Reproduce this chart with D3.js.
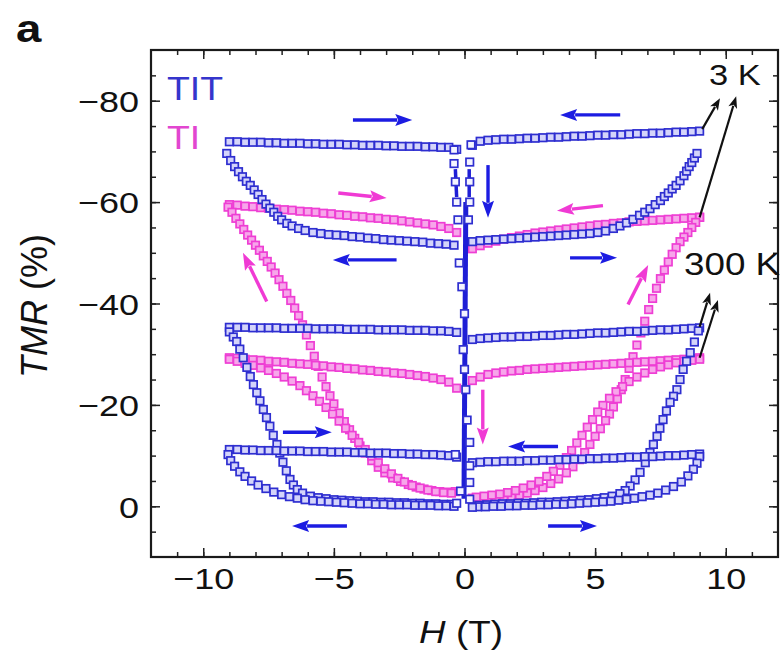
<!DOCTYPE html>
<html>
<head>
<meta charset="utf-8">
<script src="https://cdn.jsdelivr.net/npm/d3@7"></script>
<style>
  body { margin: 0; background: #fff; }
  text { font-family: "Liberation Sans", Arial, sans-serif; fill: #111; }
</style>
</head>
<body>
<div id="chart"></div>
<script>
// Field sweep grids (T) used by the flat branches
var hNeg = [-9.0,-8.7,-8.4,-8.1,-7.8,-7.5,-7.2,-6.9,-6.6,-6.3,-6.0,-5.7,-5.4,-5.1,-4.8,-4.5,-4.2,-3.9,-3.6,-3.3,-3.0,-2.7,-2.4,-2.1,-1.8,-1.5,-1.2,-0.9,-0.6,-0.3];
var hPos = [0.3,0.6,0.9,1.2,1.5,1.8,2.1,2.4,2.7,3.0,3.3,3.6,3.9,4.2,4.5,4.8,5.1,5.4,5.7,6.0,6.3,6.6,6.9,7.2,7.5,7.8,8.1,8.4,8.7,9.0];

// TIT, 3 K
var titUp3kL = [-71.9,-71.9,-71.8,-71.8,-71.8,-71.7,-71.7,-71.6,-71.6,-71.6,-71.5,-71.5,-71.4,-71.4,-71.4,-71.3,-71.3,-71.2,-71.2,-71.2,-71.1,-71.1,-71.0,-71.0,-71.0,-70.9,-70.9,-70.8,-70.8,-70.4];
var titUp3kR = [-71.2,-72.0,-72.2,-72.3,-72.4,-72.4,-72.5,-72.6,-72.6,-72.7,-72.8,-72.8,-72.9,-73.0,-73.0,-73.1,-73.2,-73.2,-73.3,-73.3,-73.4,-73.5,-73.5,-73.6,-73.6,-73.7,-73.8,-73.8,-73.9,-74.0];
var titLo3kL = [[-9.1,-69.6],[-8.95,-68.2],[-8.8,-67.0],[-8.65,-66.0],[-8.5,-65.0],[-8.35,-64.1],[-8.2,-63.3],[-8.05,-62.4],[-7.9,-61.5],[-7.75,-60.5],[-7.6,-59.6],[-7.45,-58.8],[-7.3,-58.0],[-7.15,-57.2],[-7.0,-56.5],[-6.8,-55.8],[-6.6,-55.3],[-6.35,-54.8],[-6.1,-54.4],[-5.8,-54.0],[-5.5,-53.8],[-5.2,-53.6],[-4.9,-53.5],[-4.6,-53.4],[-4.3,-53.2],[-4.0,-53.1],[-3.7,-52.9],[-3.4,-52.8],[-3.1,-52.6],[-2.8,-52.5],[-2.5,-52.4],[-2.2,-52.3],[-1.9,-52.2],[-1.6,-52.1],[-1.3,-51.9],[-1.0,-51.8],[-0.7,-51.7],[-0.4,-51.5]];
var titLo3kR = [[0.3,-52.2],[0.6,-52.4],[0.9,-52.5],[1.2,-52.6],[1.5,-52.7],[1.8,-52.8],[2.1,-52.9],[2.4,-53.0],[2.7,-53.1],[3.0,-53.2],[3.3,-53.3],[3.6,-53.4],[3.9,-53.5],[4.2,-53.6],[4.5,-53.7],[4.8,-53.8],[5.1,-54.0],[5.4,-54.3],[5.7,-54.8],[5.95,-55.3],[6.2,-55.9],[6.45,-56.6],[6.7,-57.4],[6.9,-58.0],[7.1,-58.7],[7.3,-59.5],[7.5,-60.3],[7.65,-61.1],[7.8,-61.8],[7.95,-62.6],[8.1,-63.3],[8.25,-64.2],[8.4,-65.2],[8.5,-66.1],[8.6,-67.0],[8.7,-67.8],[8.8,-68.7],[8.9,-69.6]];

// TIT, 300 K
var titUp300L = [-35.3,-35.3,-35.3,-35.2,-35.2,-35.2,-35.2,-35.1,-35.1,-35.1,-35.1,-35.0,-35.0,-35.0,-35.0,-34.9,-34.9,-34.9,-34.9,-34.8,-34.8,-34.8,-34.8,-34.7,-34.7,-34.7,-34.6,-34.6,-34.5,-34.3];
var titUp300R = [-32.9,-33.1,-33.2,-33.3,-33.4,-33.4,-33.5,-33.5,-33.6,-33.7,-33.7,-33.8,-33.9,-33.9,-34.0,-34.1,-34.2,-34.2,-34.3,-34.4,-34.5,-34.5,-34.6,-34.7,-34.8,-34.8,-34.9,-35.0,-35.1,-35.2];
var titLo300L = [[-9.0,-34.4],[-8.85,-33.4],[-8.72,-32.5],[-8.6,-31.0],[-8.47,-29.3],[-8.33,-27.4],[-8.2,-25.6],[-8.08,-24.0],[-7.95,-22.4],[-7.83,-20.8],[-7.7,-19.1],[-7.58,-17.5],[-7.45,-15.8],[-7.32,-14.0],[-7.18,-12.2],[-7.07,-10.5],[-6.95,-8.7],[-6.82,-7.0],[-6.68,-5.3],[-6.55,-4.2],[-6.4,-3.3],[-6.2,-2.6],[-5.9,-2.0],[-5.6,-1.7],[-5.3,-1.5],[-5.0,-1.3],[-4.7,-1.2],[-4.4,-1.1],[-4.1,-1.0],[-3.8,-0.9],[-3.5,-0.9],[-3.2,-0.8],[-2.9,-0.8],[-2.6,-0.7],[-2.3,-0.7],[-2.0,-0.6],[-1.7,-0.6],[-1.4,-0.5],[-1.1,-0.5],[-0.8,-0.4],[-0.5,-0.4]];
var titLo300R = [[8.95,-34.6],[8.8,-32.4],[8.64,-30.3],[8.5,-28.6],[8.37,-27.0],[8.25,-25.0],[8.13,-23.0],[8.0,-21.7],[7.87,-20.5],[7.73,-18.8],[7.6,-17.1],[7.48,-15.4],[7.37,-13.8],[7.23,-12.2],[7.1,-10.6],[6.92,-8.6],[6.72,-6.7],[6.53,-5.2],[6.34,-4.0],[6.15,-3.1],[5.95,-2.5],[5.65,-2.0],[5.35,-1.7],[5.05,-1.5],[4.75,-1.3],[4.45,-1.2],[4.15,-1.1],[3.85,-1.0],[3.55,-0.9],[3.25,-0.8],[2.95,-0.8],[2.65,-0.7],[2.35,-0.6],[2.05,-0.6],[1.75,-0.5],[1.45,-0.5],[1.15,-0.4],[0.85,-0.3],[0.55,-0.2]];

// TIT, small loop near the bottom
var titUpMidL = [-11.2,-11.2,-11.1,-11.1,-11.0,-11.0,-11.0,-10.9,-10.9,-10.9,-10.8,-10.8,-10.8,-10.7,-10.7,-10.7,-10.6,-10.6,-10.5,-10.5,-10.5,-10.4,-10.4,-10.3,-10.3,-10.2,-10.2,-10.1,-10.0,-9.7];
var titUpMidR = [-8.6,-8.7,-8.8,-8.8,-8.9,-8.9,-8.9,-9.0,-9.0,-9.1,-9.1,-9.2,-9.2,-9.3,-9.3,-9.4,-9.4,-9.5,-9.5,-9.6,-9.7,-9.7,-9.8,-9.8,-9.9,-10.0,-10.0,-10.1,-10.2,-10.3];
var titLoMidL = [[-9.05,-10.2],[-8.95,-9.0],[-8.8,-7.9],[-8.6,-6.8],[-8.4,-5.9],[-8.15,-5.0],[-7.9,-4.2],[-7.6,-3.5],[-7.3,-2.8],[-7.0,-2.3],[-6.7,-1.9],[-6.4,-1.6],[-6.1,-1.3],[-5.8,-1.1],[-5.5,-1.0],[-5.2,-0.9],[-4.9,-0.8],[-4.6,-0.7],[-4.3,-0.6],[-4.0,-0.5],[-3.7,-0.5],[-3.4,-0.4],[-3.1,-0.4],[-2.8,-0.3],[-2.5,-0.3],[-2.2,-0.3],[-1.9,-0.2],[-1.6,-0.2],[-1.3,-0.2],[-1.0,-0.1],[-0.7,-0.1],[-0.4,0.0]];
var titLoMidR = [[9.0,-9.8],[8.9,-8.5],[8.76,-7.3],[8.55,-6.0],[8.3,-4.8],[8.0,-3.9],[7.7,-3.2],[7.4,-2.6],[7.1,-2.2],[6.8,-1.9],[6.5,-1.6],[6.2,-1.4],[5.9,-1.2],[5.6,-1.0],[5.3,-0.9],[5.0,-0.8],[4.7,-0.7],[4.4,-0.6],[4.1,-0.5],[3.8,-0.4],[3.5,-0.4],[3.2,-0.3],[2.9,-0.3],[2.6,-0.2],[2.3,-0.2],[2.0,-0.1],[1.7,-0.1],[1.4,0.0],[1.1,0.0],[0.8,0.1],[0.5,0.1],[0.3,0.2]];

// TIT switching near zero field
var titSwitch = [[-0.4,-70.3],[-0.4,-67.6],[-0.35,-64.0],[-0.3,-60.0],[-0.25,-56.5],[0.25,-71.3],[0.2,-67.9],[0.2,-64.0],[0.2,-60.0],[0.15,-56.5],[-0.2,-48.0],[-0.1,-43.3],[0.0,-38.0],[-0.05,-30.9],[0.0,-27.0],[0.05,-23.0],[0.1,-17.0],[0.2,-12.6],[-0.35,-10.2],[0.2,-8.0],[0.2,-4.7],[0.2,-1.4],[-0.3,-0.6],[-0.15,-3.0]];
var titSwitchLines = [[[-0.35,-66.5],[-0.3,-61.0]], [[0.18,-66.5],[0.18,-61.0]], [[0.05,-60.0],[-0.02,-1.5]]];

// TI, 3 K
var tiUp3kL = [-59.5,-59.4,-59.2,-59.1,-58.9,-58.8,-58.6,-58.5,-58.4,-58.2,-58.1,-58.0,-57.8,-57.7,-57.5,-57.4,-57.2,-57.1,-56.9,-56.8,-56.6,-56.5,-56.3,-56.1,-55.9,-55.7,-55.5,-55.2,-54.8,-54.0];
var tiUp3kR = [-50.8,-51.4,-51.9,-52.3,-52.7,-53.0,-53.3,-53.6,-53.9,-54.1,-54.3,-54.5,-54.7,-54.9,-55.1,-55.3,-55.5,-55.6,-55.8,-55.9,-56.1,-56.2,-56.3,-56.4,-56.5,-56.6,-56.7,-56.8,-56.9,-57.0];
var tiLo3kL = [[-9.05,-59.0],[-8.9,-58.0],[-8.75,-56.8],[-8.6,-55.7],[-8.45,-54.6],[-8.3,-53.5],[-8.15,-52.5],[-8.0,-51.5],[-7.85,-50.5],[-7.7,-49.4],[-7.55,-48.3],[-7.4,-47.2],[-7.25,-46.0],[-7.1,-44.7],[-6.95,-43.4],[-6.8,-42.0],[-6.65,-40.6],[-6.5,-39.1],[-6.35,-37.6],[-6.2,-35.8],[-6.05,-33.8],[-5.9,-31.7],[-5.75,-29.6],[-5.6,-27.6],[-5.45,-25.5],[-5.3,-23.6],[-5.15,-21.8],[-5.0,-20.2],[-4.8,-18.4],[-4.6,-16.7],[-4.4,-15.1],[-4.2,-13.4],[-4.0,-11.9],[-3.8,-10.5],[-3.55,-9.0],[-3.3,-7.7],[-3.05,-6.6],[-2.75,-5.6],[-2.45,-4.9],[-2.15,-4.3],[-1.85,-3.8],[-1.55,-3.4],[-1.25,-3.1],[-0.95,-2.9],[-0.65,-2.8],[-0.35,-2.9]];
var tiLo3kR = [[9.0,-57.0],[8.85,-56.0],[8.7,-55.0],[8.55,-54.0],[8.4,-53.1],[8.25,-52.2],[8.1,-51.0],[7.95,-49.7],[7.8,-48.2],[7.65,-46.6],[7.5,-44.9],[7.35,-43.0],[7.2,-41.0],[7.05,-38.8],[6.9,-36.5],[6.75,-34.2],[6.6,-31.8],[6.45,-29.5],[6.3,-27.2],[6.15,-25.0],[6.0,-23.0],[5.85,-21.2],[5.7,-19.6],[5.55,-18.2],[5.4,-16.9],[5.2,-15.3],[5.0,-13.8],[4.8,-12.2],[4.6,-10.6],[4.4,-9.2],[4.15,-7.8],[3.9,-6.6],[3.6,-5.4],[3.3,-4.5],[3.0,-3.7],[2.7,-3.1],[2.4,-2.6],[2.1,-2.2],[1.8,-1.9],[1.5,-1.7],[1.2,-1.6],[0.9,-1.5],[0.6,-1.5],[0.3,-1.6]];

// TI, 300 K
var tiUp300L = [-29.3,-29.2,-29.0,-28.9,-28.8,-28.6,-28.5,-28.4,-28.2,-28.1,-28.0,-27.8,-27.7,-27.5,-27.4,-27.2,-27.1,-26.9,-26.8,-26.6,-26.5,-26.3,-26.2,-26.0,-25.8,-25.6,-25.3,-25.0,-24.5,-23.3];
var tiUp300R = [-24.8,-25.5,-26.0,-26.3,-26.5,-26.7,-26.8,-27.0,-27.1,-27.2,-27.3,-27.4,-27.5,-27.6,-27.7,-27.8,-27.9,-28.0,-28.1,-28.2,-28.3,-28.4,-28.5,-28.6,-28.7,-28.8,-28.9,-29.0,-29.1,-29.3];
var tiLo300L = [[-9.0,-29.0],[-8.7,-28.6],[-8.4,-28.2],[-8.1,-27.8],[-7.8,-27.3],[-7.5,-26.8],[-7.2,-26.2],[-6.9,-25.5],[-6.6,-24.7],[-6.3,-23.8],[-6.05,-22.8],[-5.8,-21.8],[-5.55,-20.7],[-5.3,-19.5],[-5.05,-18.2],[-4.8,-16.8],[-4.55,-15.4],[-4.3,-14.0],[-4.05,-12.6],[-3.8,-11.2],[-3.55,-9.9],[-3.3,-8.6],[-3.05,-7.4],[-2.8,-6.4],[-2.55,-5.5],[-2.3,-4.8],[-2.0,-4.1],[-1.7,-3.6],[-1.4,-3.2],[-1.1,-2.9],[-0.8,-2.7],[-0.5,-2.6]];
var tiLo300R = [[9.0,-29.0],[8.7,-28.8],[8.4,-28.6],[8.1,-28.3],[7.8,-27.9],[7.5,-27.5],[7.2,-27.0],[6.9,-26.3],[6.6,-25.5],[6.3,-24.6],[6.05,-23.6],[5.8,-22.6],[5.55,-21.3],[5.3,-19.9],[5.1,-18.6],[4.9,-17.1],[4.7,-15.6],[4.5,-14.0],[4.3,-12.5],[4.1,-11.0],[3.9,-9.6],[3.65,-8.1],[3.4,-6.9],[3.15,-5.9],[2.85,-4.9],[2.55,-4.2],[2.25,-3.6],[1.95,-3.1],[1.65,-2.7],[1.35,-2.4],[1.05,-2.2],[0.75,-2.0],[0.45,-1.8]];

// Sweep direction arrows [h0, tmr0, h1, tmr1], head at the second point
var blueArrows = [[-4.27,-76.2,-2.0,-76.2],[5.96,-77.2,3.66,-77.2],[0.9,-67.3,0.9,-56.9],[-2.6,-48.6,-5.04,-48.6],[4.04,-49.0,5.84,-49.0],[-6.95,-14.6,-5.08,-14.6],[-4.5,3.9,-6.6,3.9],[3.58,-11.8,1.67,-11.8],[3.2,3.9,5.07,3.9]];
var pinkArrows = [[-4.83,-61.8,-2.98,-60.8],[5.3,-59.3,3.54,-58.3],[-7.57,-40.4,-8.48,-50.0],[6.26,-39.8,7.03,-47.6],[0.7,-23.0,0.7,-12.2]];
var blackArrows = [[9.1,-74.4,9.78,-80.5],[9.0,-57.0,10.4,-80.9],[9.0,-35.4,9.4,-42.1],[9.0,-29.3,9.7,-40.7]];

// Ticks
var xTicks = [-10, -5, 0, 5, 10];
var yTicks = [-80, -60, -40, -20, 0];
var xMinor = d3.range(-11, 12, 1);
var yMinor = d3.range(-85, 10, 5);

var width = 782, height = 651;
var blue = "#2e2ed0", pink = "#ee3ed4";

var svg = d3.select("#chart")
  .append("svg")
  .attr("width", width)
  .attr("height", height);

var x = d3.scaleLinear().domain([-12, 12]).range([151, 778]);
var y = d3.scaleLinear().domain([10, -90]).range([557, 50]);

function zip(hs, vs) {
  return hs.map(function(h, i) { return [h, vs[i]]; });
}

var markSize = 7.5;
function drawSquares(pts, stroke, fill) {
  svg.append("g")
    .selectAll("rect")
    .data(pts)
    .enter()
    .append("rect")
    .attr("x", function(d) { return x(d[0]) - markSize / 2; })
    .attr("y", function(d) { return y(d[1]) - markSize / 2; })
    .attr("width", markSize)
    .attr("height", markSize)
    .attr("fill", fill)
    .attr("stroke", stroke)
    .attr("stroke-width", 1.7);
}

function drawArrow(d, color, lw, headLen, headW) {
  var x0 = x(d[0]), y0 = y(d[1]), x1 = x(d[2]), y1 = y(d[3]);
  var len = Math.hypot(x1 - x0, y1 - y0);
  var ux = (x1 - x0) / len, uy = (y1 - y0) / len;
  var bx = x1 - ux * headLen, by = y1 - uy * headLen;
  svg.append("line")
    .attr("x1", x0).attr("y1", y0)
    .attr("x2", bx + ux * 2).attr("y2", by + uy * 2)
    .attr("stroke", color)
    .attr("stroke-width", lw);
  svg.append("path")
    .attr("d", "M" + x1 + "," + y1 +
      "L" + (bx - uy * headW) + "," + (by + ux * headW) +
      "L" + (bx + ux * 3) + "," + (by + uy * 3) +
      "L" + (bx + uy * headW) + "," + (by - ux * headW) + "Z")
    .attr("fill", color);
}

// TI (pink) first, TIT (blue) on top
var pinkFill = "#f7a6ea";
[zip(hNeg, tiUp3kL), zip(hPos, tiUp3kR), tiLo3kL, tiLo3kR,
 zip(hNeg, tiUp300L), zip(hPos, tiUp300R), tiLo300L, tiLo300R].forEach(function(s) {
  drawSquares(s, pink, pinkFill);
});

var blueFill = "#d4d4fa";
[zip(hNeg, titUp3kL), zip(hPos, titUp3kR), titLo3kL, titLo3kR,
 zip(hNeg, titUp300L), zip(hPos, titUp300R), titLo300L, titLo300R,
 zip(hNeg, titUpMidL), zip(hPos, titUpMidR), titLoMidL, titLoMidR].forEach(function(s) {
  drawSquares(s, blue, blueFill);
});

var line = d3.line().x(function(d) { return x(d[0]); }).y(function(d) { return y(d[1]); });
titSwitchLines.forEach(function(l, i) {
  svg.append("path")
    .attr("d", line(l))
    .attr("fill", "none")
    .attr("stroke", "#1e1ed6")
    .attr("stroke-width", i === 2 ? 5 : 3.5);
});
drawSquares(titSwitch, blue, "#f4f4ff");

blueArrows.forEach(function(d) { drawArrow(d, "#1c1ce2", 3.4, 17, 6); });
pinkArrows.forEach(function(d) { drawArrow(d, "#f03ad4", 3.4, 17, 6); });
blackArrows.forEach(function(d) { drawArrow(d, "#111", 2.2, 12, 4.5); });

// Axes: ticks point inward on all four sides
function tickAxis(axis, tr, vals, size) {
  var g = svg.append("g")
    .attr("transform", tr)
    .call(axis.tickValues(vals).tickSize(size).tickFormat(""));
  g.select(".domain").remove();
  g.selectAll("line").attr("stroke", "#222").attr("stroke-width", 1.5);
  return g;
}
tickAxis(d3.axisBottom(x), "translate(0,557)", xMinor, -5);
tickAxis(d3.axisTop(x), "translate(0,50)", xMinor, -5);
tickAxis(d3.axisLeft(y), "translate(151,0)", yMinor, -5);
tickAxis(d3.axisRight(y), "translate(778,0)", yMinor, -5);
tickAxis(d3.axisTop(x), "translate(0,50)", xTicks, -9);
tickAxis(d3.axisRight(y), "translate(778,0)", yTicks, -9);

var fmt = function(d) { return d < 0 ? "\u2212" + Math.abs(d) : String(d); };

var xAx = svg.append("g")
  .attr("transform", "translate(0,557)")
  .call(d3.axisBottom(x).tickValues(xTicks).tickSize(-9).tickPadding(11).tickFormat(fmt));
xAx.select(".domain").remove();
xAx.selectAll("line").attr("stroke", "#222").attr("stroke-width", 1.5);
xAx.selectAll("text")
  .attr("font-size", 30)
  .attr("font-family", "Liberation Sans, Arial, sans-serif")
  .attr("fill", "#111")
  .attr("transform", "scale(1.2,1)");

var yAx = svg.append("g")
  .attr("transform", "translate(151,0)")
  .call(d3.axisLeft(y).tickValues(yTicks).tickSize(-9).tickPadding(11).tickFormat(fmt));
yAx.select(".domain").remove();
yAx.selectAll("line").attr("stroke", "#222").attr("stroke-width", 1.5);
yAx.selectAll("text")
  .attr("font-size", 30)
  .attr("font-family", "Liberation Sans, Arial, sans-serif")
  .attr("fill", "#111")
  .attr("x", -12 / 1.2)
  .attr("dy", "0.36em")
  .attr("transform", "scale(1.2,1)");

// Frame
svg.append("rect")
  .attr("x", 151).attr("y", 50)
  .attr("width", 627).attr("height", 507)
  .attr("fill", "none")
  .attr("stroke", "#1a1a1a")
  .attr("stroke-width", 2.2);

// Texts (drawn a little wide, like the original figure)
function wideText(tx, ty, sx, size, color, str, weight) {
  return svg.append("text")
    .attr("transform", "translate(" + tx + "," + ty + ") scale(" + sx + ",1)")
    .attr("font-size", size)
    .attr("font-weight", weight || "normal")
    .style("fill", color)
    .text(str);
}
wideText(16, 42, 1.2, 38, "#111", "a", "bold");
wideText(167, 100, 1.1, 34, "#3535cc", "TIT");
wideText(167, 149, 1.1, 34, "#e246d0", "TI");
wideText(709, 85, 1.15, 30, "#111", "3 K");
wideText(684, 275, 1.15, 32, "#111", "300 K");

var xTitle = svg.append("text")
  .attr("transform", "translate(461,643) scale(1.15,1)")
  .attr("text-anchor", "middle")
  .attr("font-size", 32);
xTitle.append("tspan").attr("font-style", "italic").text("H");
xTitle.append("tspan").text(" (T)");

var yTitle = svg.append("text")
  .attr("transform", "translate(47,306) rotate(-90)")
  .attr("text-anchor", "middle")
  .attr("font-size", 36);
yTitle.append("tspan").attr("font-style", "italic").text("TMR");
yTitle.append("tspan").text(" (%)");
</script>
</body>
</html>
